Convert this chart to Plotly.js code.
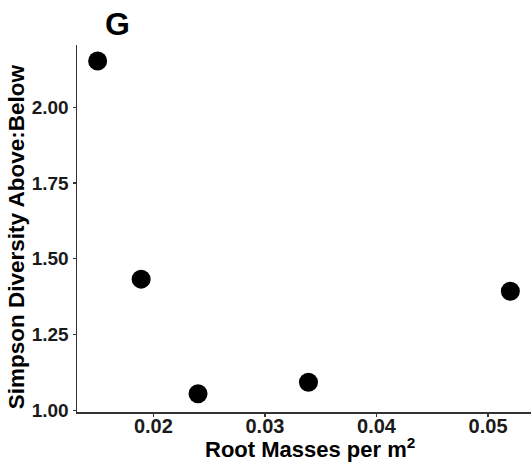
<!DOCTYPE html>
<html>
<head>
<meta charset="utf-8">
<script src="https://cdn.plot.ly/plotly-3.0.1.min.js"></script>
<style>html,body{margin:0;padding:0;background:#fff;}#chart{width:531px;height:466px;}</style>
</head>
<body>
<div id="chart"></div>
<script>
var rootMass = [0.0150, 0.0189, 0.0240, 0.0339, 0.0520];
var simpsonRatio = [2.152, 1.433, 1.055, 1.093, 1.393];
var xTickVals = [0.02, 0.03, 0.04, 0.05];
var xTickText = ["0.02", "0.03", "0.04", "0.05"];
var yTickVals = [1.00, 1.25, 1.50, 1.75, 2.00];
var yTickText = ["1.00", "1.25", "1.50", "1.75", "2.00"];
var panelTitle = "G";
var xTitle = "Root Masses per m<sup>2</sup>";
var yTitle = "Simpson Diversity Above:Below";

var FONT = "Liberation Sans, Arial, sans-serif";
var trace = {
  x: rootMass, y: simpsonRatio, type: "scatter", mode: "markers",
  marker: {color: "#000000", size: 19}, cliponaxis: false, hoverinfo: "none"
};
var layout = {
  width: 531, height: 466,
  margin: {l: 77, r: 0, t: 45, b: 54},
  paper_bgcolor: "#ffffff", plot_bgcolor: "#ffffff",
  showlegend: false,
  title: {text: "<b>" + panelTitle + "</b>", font: {family: FONT, size: 32, color: "#000"},
          x: 117.5 / 531, xref: "container", xanchor: "center",
          y: 1 - 24 / 466, yref: "container", yanchor: "middle"},
  xaxis: {
    range: [0.01315, 0.05385], tickvals: xTickVals, ticktext: xTickText,
    showgrid: false, zeroline: false, showline: true, linecolor: "#333333", linewidth: 1.5,
    ticks: "outside", ticklen: 3, tickwidth: 1.2, tickcolor: "#333333",
    ticklabelstandoff: -8,
    tickfont: {family: FONT, size: 20, color: "#1a1a1a", weight: "bold"}
  },
  yaxis: {
    range: [0.995, 2.205], tickvals: yTickVals, ticktext: yTickText,
    showgrid: false, zeroline: false, showline: true, linecolor: "#333333", linewidth: 1.5,
    ticks: "outside", ticklen: 3, tickwidth: 1.2, tickcolor: "#333333",
    tickfont: {family: FONT, size: 19, color: "#1a1a1a", weight: "bold"}
  },
  annotations: [
    {text: "<b>" + xTitle + "</b>", xref: "paper", yref: "paper",
     x: (310 - 77) / 454, y: (412 - 448) / 367, xanchor: "center", yanchor: "middle",
     showarrow: false, font: {family: FONT, size: 22, color: "#000"}},
    {text: "<b>" + yTitle + "</b>", xref: "paper", yref: "paper", textangle: -90,
     x: (16.7 - 77) / 454, y: (412 - 236.5) / 367, xanchor: "center", yanchor: "middle",
     showarrow: false, font: {family: FONT, size: 22.5, color: "#000"}}
  ]
};
Plotly.newPlot("chart", [trace], layout, {displayModeBar: false, staticPlot: true});
</script>
</body>
</html>
